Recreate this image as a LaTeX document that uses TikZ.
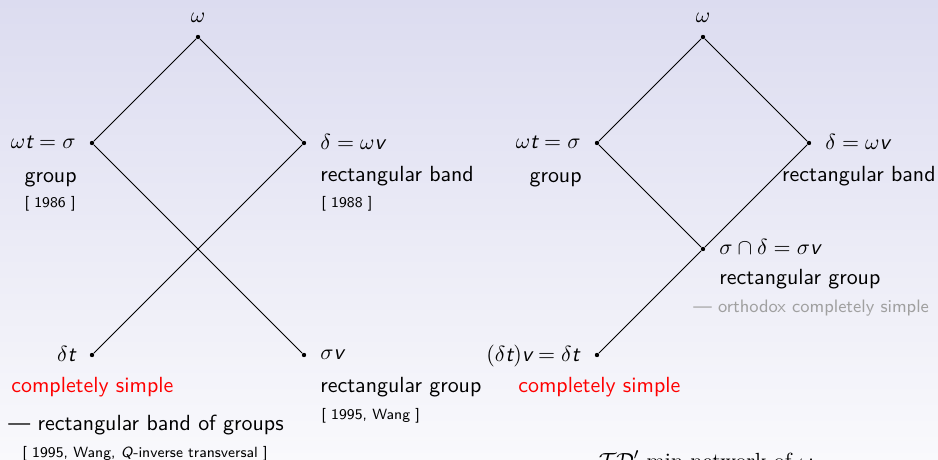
\documentclass[tikz,border=0pt]{standalone}
\usepackage{fontspec}
\usepackage{amsmath}
\definecolor{bgtop}{RGB}{220,220,240}
\definecolor{bgbot}{RGB}{249,249,252}
\definecolor{txtgray}{RGB}{160,160,160}
\newcommand{\sv}[1]{\mbox{\sffamily\itshape #1}}
\begin{document}
\begin{tikzpicture}[x=0.5pt,y=-0.5pt,
 dotnode/.style={circle,fill=black,inner sep=0pt,minimum size=2.2pt},
 conn/.style={line width=0.45pt},
 lbl/.style={inner sep=0pt, font=\fontsize{10.95}{13}\selectfont\sffamily},
 sml/.style={inner sep=0pt, font=\fontsize{7.4}{9}\selectfont\sffamily},
 gry/.style={inner sep=0pt, text=txtgray, font=\fontsize{9}{11}\selectfont\sffamily},
 capt/.style={inner sep=0pt, font=\fontsize{10.95}{13}\selectfont\rmfamily},
]
\shade[top color=bgtop,bottom color=bgbot] (0pt,0pt) rectangle (469pt,-230pt);
\useasboundingbox (0pt,0pt) rectangle (469pt,-230pt);

% left diagram
\node[dotnode] (Lw) at (198,37) {};
\node[dotnode] (La) at (92,143) {};
\node[dotnode] (Lb) at (304,143) {};
\node[dotnode] (Lc) at (92,355) {};
\node[dotnode] (Ld) at (304,355) {};
\draw[conn] (Lw) -- (La);
\draw[conn] (Lw) -- (Lb);
\draw[conn] (La) -- (Ld);
\draw[conn] (Lb) -- (Lc);

\node[lbl,anchor=base] (lw) at (198,23) {$\omega$};
\node[lbl,anchor=base east] (la) at (76,149) {$\omega\sv{t}=\sigma$};
\node[lbl,anchor=base east] (lag) at (77,183) {group};
\node[sml,anchor=base east] (lay) at (76,207) {[ 1986 ]};
\node[lbl,anchor=base west] (lb) at (320,150) {$\delta=\omega\sv{v}$};
\node[lbl,anchor=base west] (lbg) at (320,182) {rectangular band};
\node[sml,anchor=base west] (lby) at (321,207) {[ 1988 ]};
\node[lbl,anchor=base east] (lc) at (76,361) {$\delta\sv{t}$};
\node[lbl,anchor=base west,text=red] (lcg) at (11,392) {completely simple};
\node[lbl,anchor=base west] (lcn) at (8,430) {\textemdash\ rectangular band of groups};
\node[sml,anchor=base west] (lcy) at (22,457) {[ 1995, Wang, \textit{Q}-inverse transversal ]};
\node[lbl,anchor=base west] (ld) at (320,359) {$\sigma\sv{v}$};
\node[lbl,anchor=base west] (ldg) at (320,392) {rectangular group};
\node[sml,anchor=base west] (ldy) at (321,419) {[ 1995, Wang ]};

% right diagram
\node[dotnode] (Rw) at (703,37) {};
\node[dotnode] (Ra) at (597,143) {};
\node[dotnode] (Rb) at (809,143) {};
\node[dotnode] (Rm) at (703,249) {};
\node[dotnode] (Rc) at (597,355) {};
\draw[conn] (Rw) -- (Ra);
\draw[conn] (Rw) -- (Rb);
\draw[conn] (Ra) -- (Rm);
\draw[conn] (Rb) -- (Rm);
\draw[conn] (Rm) -- (Rc);

\node[lbl,anchor=base] (rw) at (703,23) {$\omega$};
\node[lbl,anchor=base east] (ra) at (581,149) {$\omega\sv{t}=\sigma$};
\node[lbl,anchor=base east] (rag) at (582,183) {group};
\node[lbl,anchor=base west] (rb) at (825,150) {$\delta=\omega\sv{v}$};
\node[lbl,anchor=base east] (rbg) at (936,182) {rectangular band};
\node[lbl,anchor=base west] (rm) at (719,255) {$\sigma\cap\delta=\sigma\sv{v}$};
\node[lbl,anchor=base west] (rmg) at (719,285) {rectangular group};
\node[gry,anchor=base west] (rmn) at (693,312) {\textemdash\ orthodox completely simple};
\node[lbl,anchor=base east] (rc) at (580,361) {$(\delta\sv{t})\sv{v}=\delta\sv{t}$};
\node[lbl,anchor=base west,text=red] (rcg) at (518,392) {completely simple};
\node[capt,anchor=base] (cap) at (706,468) {$\mathcal{TD}'$ min network of $\omega$};
\end{tikzpicture}
\end{document}
